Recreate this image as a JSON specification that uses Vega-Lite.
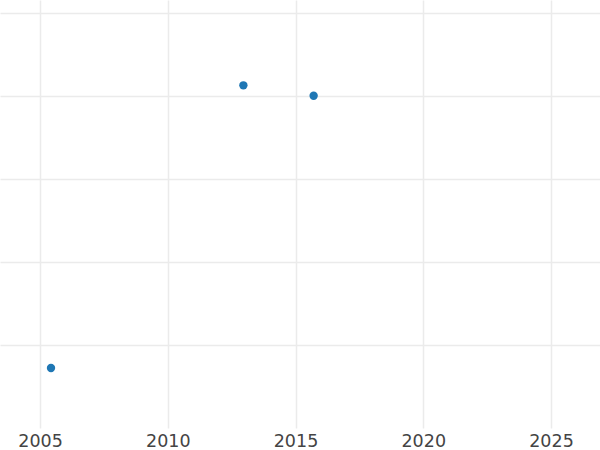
{
  "$schema": "https://vega.github.io/schema/vega-lite/v6.json",
  "width": 600,
  "height": 428,
  "padding": {"left": 0, "top": 0, "right": 0, "bottom": 22},
  "autosize": {"type": "none"},
  "background": "white",
  "config": {"view": {"stroke": null}},
  "data": {"values": [
    {"year": 2005.43, "value": 0.723},
    {"year": 2012.96, "value": 4.129},
    {"year": 2015.71, "value": 4.004}
  ]},
  "mark": {"type": "circle", "size": 70, "opacity": 1, "color": "#1f77b4"},
  "encoding": {
    "x": {"field": "year", "type": "quantitative",
      "scale": {"domain": [2003.434, 2026.918], "nice": false, "zero": false},
      "axis": {"title": null, "values": [2005, 2010, 2015, 2020, 2025], "format": "d",
        "domain": false, "ticks": false, "labelPadding": 4, "labelFontSize": 17.5,
        "labelFont": "DejaVu Sans", "labelColor": "#444444",
        "gridColor": "#ebebeb", "gridWidth": 1.5}},
    "y": {"field": "value", "type": "quantitative",
      "scale": {"domain": [0, 5.157], "nice": false, "zero": false},
      "axis": {"title": null, "values": [1, 2, 3, 4, 5], "labels": false,
        "domain": false, "ticks": false,
        "gridColor": "#ebebeb", "gridWidth": 1.5}}
  }
}
